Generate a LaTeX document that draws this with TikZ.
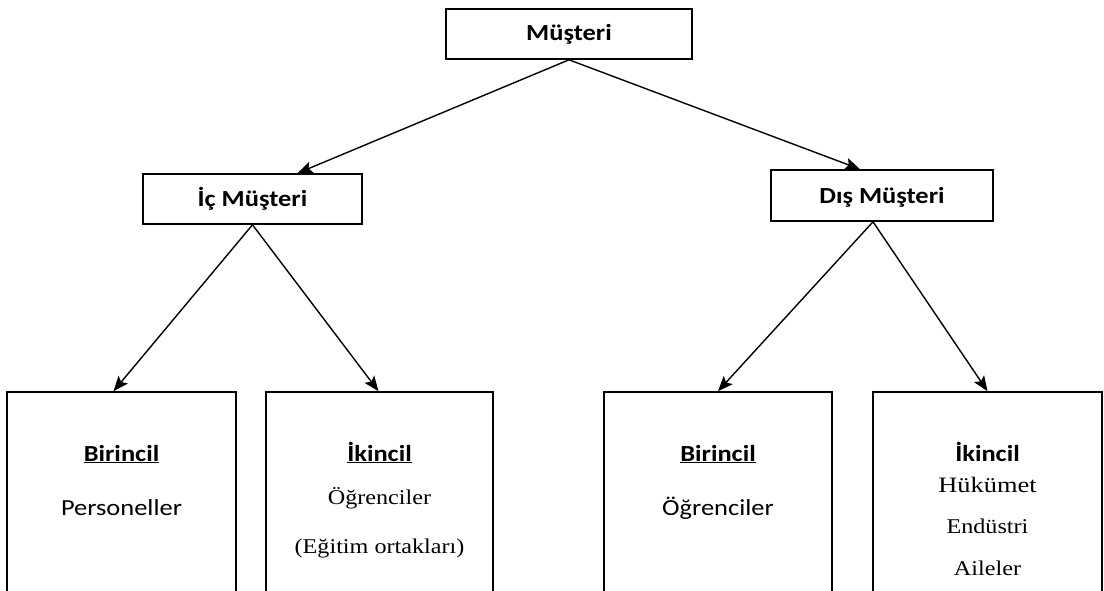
\documentclass[tikz,border=0pt]{standalone}
\usepackage{fontspec}
\usepackage{graphicx}
\setmainfont{Liberation Serif}
\newfontfamily\calfont{Carlito}
\usetikzlibrary{arrows.meta}
\newcommand{\sx}[1]{\scalebox{1.15}[1]{#1}}
\tikzset{
  box/.style={draw=black, line width=1.6pt, fill=white, inner sep=0pt},
  head/.style={font=\calfont\bfseries\fontsize{23}{27}\selectfont, anchor=base, inner sep=0pt},
  cal/.style={font=\calfont\fontsize{23}{27}\selectfont, anchor=base, inner sep=0pt},
  calb/.style={font=\calfont\bfseries\fontsize{23}{27}\selectfont, anchor=base, inner sep=0pt},
  tms/.style={font=\fontsize{21}{25}\selectfont, anchor=base, inner sep=0pt},
  arr/.style={line width=1.4pt, -{Stealth[length=15pt,width=12pt,inset=3pt]}}
}
\begin{document}
\begin{tikzpicture}[x=1pt,y=-1pt]
\useasboundingbox (0,0) rectangle (1104,590);
\fill[white] (0,0) rectangle (1104,590);
\begin{scope}
\clip (0,0) rectangle (1104,590);
% top boxes
\node[box, minimum width=246pt, minimum height=50pt] (m) at (569,34) {};
\node[box, minimum width=219pt, minimum height=50pt] (ic) at (252.5,199) {};
\node[box, minimum width=222pt, minimum height=51pt] (dis) at (882,195.5) {};
% bottom boxes
\node[box, minimum width=229pt, minimum height=240pt] (b1) at (121.5,512) {};
\node[box, minimum width=227pt, minimum height=240pt] (b2) at (379.5,512) {};
\node[box, minimum width=228pt, minimum height=240pt] (b3) at (718,512) {};
\node[box, minimum width=229pt, minimum height=240pt] (b4) at (987.5,512) {};
\end{scope}
% headings
\node[head] (tm) at (569,40) {\sx{Müşteri}};
\node[head] (tic) at (252.5,206) {\sx{İç Müşteri}};
\node[head] (tdis) at (882,203) {\sx{Dış Müşteri}};
% box 1
\node[calb] (b1h) at (121.5,461) {\sx{\underline{Birincil}}};
\node[cal] (b1t) at (121.5,515) {\sx{Personeller}};
% box 2
\node[calb] (b2h) at (379.5,461) {\sx{\underline{İkincil}}};
\node[tms] (b2t1) at (379.5,504) {\sx{Öğrenciler}};
\node[tms] (b2t2) at (379.5,553) {\sx{(Eğitim ortakları)}};
% box 3
\node[calb] (b3h) at (718,461) {\sx{\underline{Birincil}}};
\node[cal] (b3t) at (718,515) {\sx{Öğrenciler}};
% box 4
\node[calb] (b4h) at (987.5,461) {\sx{İkincil}};
\node[tms] (b4t1) at (987.5,492) {\scalebox{1.2}[1]{\fontsize{22}{26}\selectfont Hükümet}};
\node[tms] (b4t2) at (987.5,533) {\sx{Endüstri}};
\node[tms] (b4t3) at (987.5,575) {\sx{Aileler}};
% arrows
\draw[arr] (m.south) -- ([xshift=45pt]ic.north);
\draw[arr] (m.south) -- ([xshift=-22pt]dis.north);
\draw[arr] (ic.south) -- ([xshift=-8pt]b1.north);
\draw[arr] (ic.south) -- ([xshift=-1pt]b2.north);
\draw[arr] ([xshift=-9pt]dis.south) -- (b3.north);
\draw[arr] ([xshift=-9pt]dis.south) -- (b4.north);
\end{tikzpicture}
\end{document}
